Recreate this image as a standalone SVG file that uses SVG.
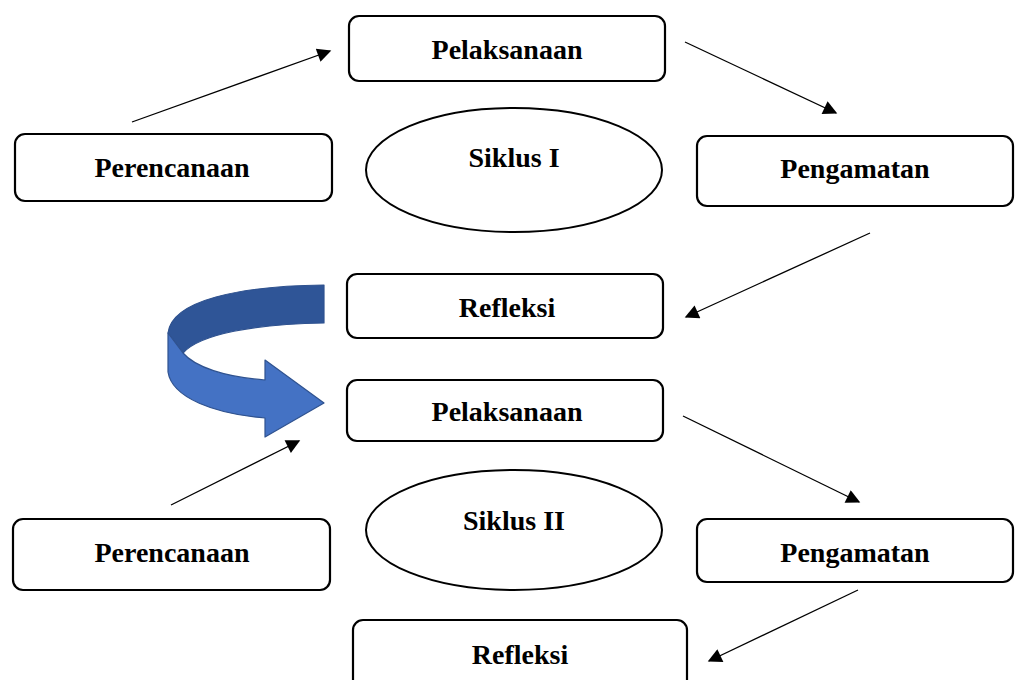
<svg xmlns="http://www.w3.org/2000/svg" width="1015" height="680" viewBox="0 0 1015 680">
<style>
.box{fill:#fff;stroke:#000;stroke-width:2.2}
.ell{fill:#fff;stroke:#000;stroke-width:2}
.t{font-family:"Liberation Serif","Times New Roman",serif;font-weight:bold;font-size:28px;text-anchor:middle;fill:#000}
.c{stroke:#000;stroke-width:1.3;fill:none;marker-end:url(#ah)}
</style>
<defs>
<marker id="ah" viewBox="0 0 10 10" refX="9" refY="5" markerWidth="17" markerHeight="14" markerUnits="userSpaceOnUse" orient="auto">
<path d="M0,0 L10,5 L0,10 Z" fill="#000"/>
</marker>
</defs>
<rect width="1015" height="680" fill="#fff"/>
<g id="connectors">
<line class="c" x1="132" y1="122" x2="330" y2="51"/>
<line class="c" x1="685" y1="42" x2="836" y2="113"/>
<line class="c" x1="870" y1="233" x2="686" y2="317"/>
<line class="c" x1="171" y1="505" x2="299" y2="441"/>
<line class="c" x1="683" y1="416" x2="859" y2="502"/>
<line class="c" x1="858" y1="590" x2="709" y2="661"/>
</g>
<g id="curved-arrow" stroke="#2F528F" stroke-width="1.2" stroke-linejoin="round">
<path d="M324,285 L324,323 C255,324 200,334 183,353 L168,333 C172,300 240,286 324,285 Z" fill="#2F5597"/>
<path d="M168,333 L183,353 C195,367 225,377 265,380 L265,360 L324,403 L265,437 L265,418 C215,414 172,398 168,372 Z" fill="#4472C4"/>
</g>
<g id="pelaksanaan1"><rect class="box" x="349" y="16" width="316" height="65" rx="10"/><text class="t" x="507" y="59">Pelaksanaan</text></g>
<g id="perencanaan1"><rect class="box" x="15" y="134" width="317" height="67" rx="10"/><text class="t" x="172" y="177">Perencanaan</text></g>
<g id="pengamatan1"><rect class="box" x="697" y="136" width="316" height="70" rx="10"/><text class="t" x="855" y="178">Pengamatan</text></g>
<g id="siklus1"><ellipse class="ell" cx="514" cy="170" rx="148" ry="62"/><text class="t" x="514" y="167">Siklus I</text></g>
<g id="refleksi1"><rect class="box" x="347" y="274" width="316" height="64" rx="10"/><text class="t" x="507" y="317">Refleksi</text></g>
<g id="pelaksanaan2"><rect class="box" x="347" y="380" width="316" height="61" rx="10"/><text class="t" x="507" y="421">Pelaksanaan</text></g>
<g id="siklus2"><ellipse class="ell" cx="514" cy="530" rx="148" ry="60"/><text class="t" x="514" y="530">Siklus II</text></g>
<g id="perencanaan2"><rect class="box" x="13" y="519" width="317" height="71" rx="10"/><text class="t" x="172" y="562">Perencanaan</text></g>
<g id="pengamatan2"><rect class="box" x="697" y="519" width="316" height="63" rx="10"/><text class="t" x="855" y="562">Pengamatan</text></g>
<g id="refleksi2"><rect class="box" x="353" y="620" width="334" height="70" rx="10"/><text class="t" x="520" y="664">Refleksi</text></g>
</svg>
